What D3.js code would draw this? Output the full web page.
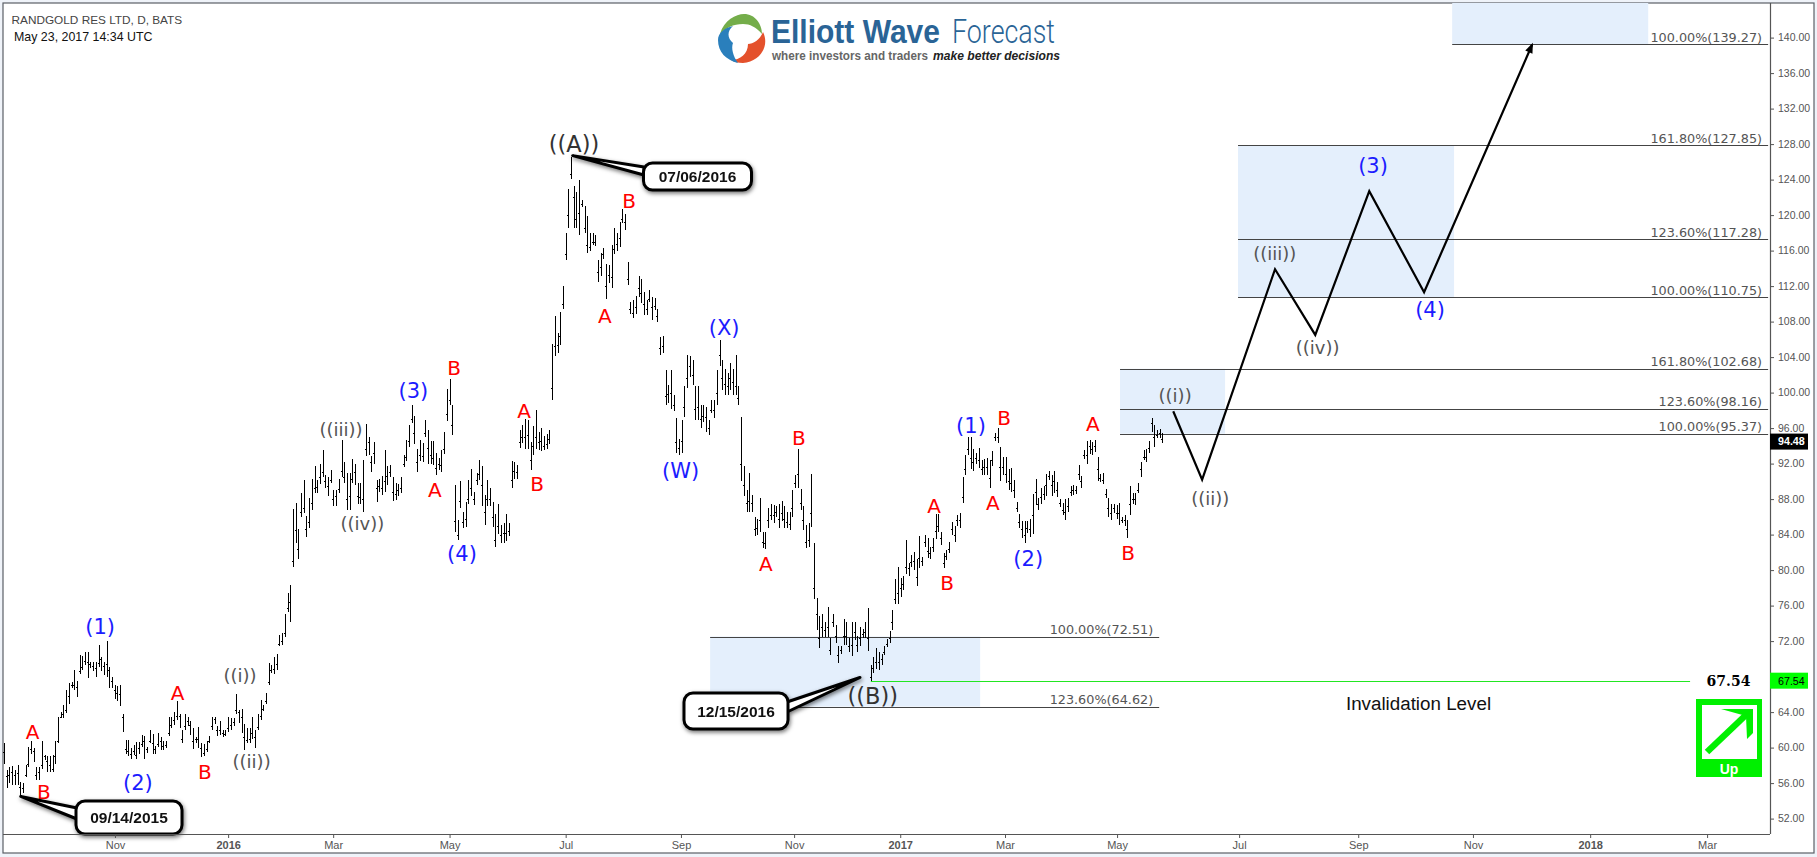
<!DOCTYPE html>
<html>
<head>
<meta charset="utf-8">
<title>RANDGOLD RES LTD, D, BATS</title>
<script src="https://cdnjs.cloudflare.com/ajax/libs/d3/7.8.5/d3.min.js"></script>
<style>
  html, body { margin: 0; padding: 0; background: #eff3f9; overflow: hidden; }
  svg { display: block; }
  text { font-family: "Liberation Sans", Arial, sans-serif; }
  .wave { font-family: "DejaVu Sans", Verdana, sans-serif; text-anchor: middle; }
  .fib { font-family: "DejaVu Sans", Verdana, sans-serif; font-size: 12.8px; fill: #555; text-anchor: end; }
</style>
</head>
<body>
<div id="chart"></div>
<script>
// one entry per trading day, first bar is the left edge of the chart
const barHigh = [
  60.5,57.5,57.8,57.9,57.5,58.0,56.1,56.0,58.0,60.1,60.8,60.0,57.8,57.8,60.8,59.2,59.0,59.0,59.2,60.7,
  63.4,64.0,64.8,66.5,67.3,67.4,68.8,67.5,70.4,70.3,70.8,70.8,69.7,69.7,69.7,71.6,70.2,69.7,72.0,69.1,
  67.9,67.0,66.9,67.0,63.8,60.9,60.9,60.0,60.3,60.6,60.6,61.4,61.3,60.1,62.0,61.5,60.2,61.6,61.2,60.8,
  60.8,63.4,63.5,64.0,65.3,63.8,62.0,63.8,63.4,63.0,62.2,61.2,62.3,60.5,60.4,60.8,61.3,63.5,63.5,62.4,
  63.0,62.0,62.0,63.5,63.3,63.3,66.0,64.2,64.3,62.7,62.2,62.2,63.4,62.0,63.8,65.4,64.8,66.2,69.5,69.3,
  70.2,70.6,72.7,72.9,75.1,77.4,78.3,86.9,87.6,84.6,88.7,90.2,86.1,88.1,90.3,91.7,90.2,92.0,93.5,90.7,
  90.5,91.3,89.0,89.0,90.3,94.7,92.2,90.9,90.9,92.5,92.0,89.8,89.8,92.4,96.5,95.0,92.9,94.4,90.2,90.3,
  90.6,93.5,91.7,91.8,90.5,89.8,89.7,90.5,93.0,94.7,96.4,98.6,97.4,93.6,94.7,94.3,96.9,95.8,94.5,94.5,
  93.2,92.6,93.5,95.6,100.4,101.5,98.6,89.6,85.6,90.0,86.6,87.7,90.2,91.4,88.8,90.9,92.4,91.7,88.5,90.2,
  89.2,87.7,86.3,87.5,85.1,85.3,86.3,85.3,92.3,92.2,91.8,95.8,96.4,97.0,96.9,94.4,96.2,98.0,95.6,96.0,
  95.1,95.3,95.8,105.5,108.6,106.7,109.1,112.0,118.0,122.9,126.5,123.3,122.6,124.0,121.7,121.0,119.9,118.0,118.0,117.8,
  114.9,115.7,116.3,114.5,114.4,116.6,118.6,118.0,119.2,120.7,120.1,114.7,110.2,110.4,110.9,113.1,112.8,111.3,110.4,111.6,
  110.8,110.7,109.4,106.3,106.4,102.5,100.9,102.6,99.7,97.1,94.8,96.9,100.7,104.2,104.1,103.7,100.7,100.7,98.6,98.6,
  98.4,96.9,99.2,99.2,102.6,105.9,103.7,102.7,102.2,103.3,102.7,104.2,100.8,97.2,91.7,89.0,90.9,88.5,86.0,85.8,
  88.1,84.3,84.3,87.0,87.5,87.3,87.2,87.5,87.8,87.2,86.5,86.6,89.0,90.7,93.7,89.1,87.2,85.1,85.3,90.8,
  83.1,76.9,74.8,75.1,74.2,75.8,72.4,75.1,73.8,71.4,71.4,74.5,74.2,72.3,74.2,74.2,72.6,73.6,73.4,74.2,
  75.7,69.3,70.2,71.2,70.8,70.6,71.4,72.2,73.1,75.5,79.0,80.4,79.1,79.3,83.4,80.8,81.7,82.0,81.3,83.8,
  81.5,84.0,83.6,82.6,83.6,86.3,86.3,84.3,81.9,82.3,83.2,85.4,85.0,86.2,86.4,90.5,93.0,95.0,95.0,93.6,
  93.2,93.8,92.4,92.5,92.6,92.4,93.4,95.5,96.0,93.9,92.8,92.7,91.4,91.5,90.2,87.7,86.3,85.5,85.5,85.5,
  85.8,88.6,90.3,88.1,89.3,89.5,90.8,91.2,90.7,91.2,89.9,88.0,87.6,88.0,88.1,89.5,89.6,89.5,91.8,90.6,
  93.5,94.5,94.7,94.4,94.7,92.7,90.8,90.9,89.1,88.1,87.5,87.5,87.3,87.6,86.0,86.2,85.6,89.5,88.7,88.7,
  89.8,92.2,93.5,93.7,94.6,97.1,96.3,95.8,95.9,95.4
];
const barLow = [
  58.2,55.5,56.0,55.8,55.8,55.8,54.6,54.9,56.7,57.8,59.3,58.4,56.3,56.3,57.6,58.6,57.3,57.2,57.3,58.2,
  60.5,63.3,63.3,63.9,64.9,66.7,66.5,65.7,68.3,68.7,69.3,67.8,69.0,68.6,67.9,69.1,68.6,68.2,68.0,66.7,
  66.7,65.5,65.2,64.7,61.8,59.3,59.0,58.7,59.2,58.7,59.3,60.1,58.7,59.4,60.5,59.3,59.3,60.1,59.7,59.7,
  59.9,61.3,62.2,62.5,63.1,62.2,60.5,62.0,62.4,61.4,59.8,60.5,60.0,58.9,59.0,59.5,60.5,62.0,62.7,61.3,
  61.4,61.2,61.3,61.8,62.0,62.4,63.8,62.8,61.7,59.7,60.5,60.5,61.0,60.0,62.0,63.1,64.1,64.9,67.0,68.4,
  68.3,68.7,71.4,71.6,72.5,75.3,74.2,80.4,83.0,81.3,86.0,86.4,83.7,84.7,86.8,88.7,88.7,89.7,90.5,89.2,
  88.3,89.8,87.2,87.2,88.7,90.5,89.8,86.8,86.8,89.8,89.6,87.5,87.5,86.5,92.9,93.0,91.1,92.0,87.7,88.8,
  88.5,88.8,89.6,90.5,87.8,87.9,88.4,88.7,91.6,92.3,93.9,96.6,94.2,91.1,92.3,92.2,95.0,92.0,92.0,91.8,
  90.7,91.3,91.0,93.1,96.8,98.6,95.2,84.3,83.4,87.0,84.8,84.9,87.5,88.4,87.3,89.6,90.2,87.2,85.1,87.2,
  87.2,84.9,82.6,84.1,83.0,83.1,83.3,83.8,89.2,90.3,90.3,93.8,94.3,93.7,93.7,91.3,93.0,93.7,93.5,93.4,
  93.5,93.7,94.2,99.2,104.1,104.5,105.4,109.4,114.9,118.5,124.1,118.5,118.5,117.8,120.9,118.0,115.7,115.9,116.6,116.5,
  112.5,113.1,115.1,110.6,112.3,111.8,115.6,115.9,116.4,119.1,118.3,112.1,108.9,108.4,108.9,110.8,110.1,108.8,108.8,110.2,
  108.2,109.3,107.9,104.2,104.5,98.6,98.8,98.2,97.9,93.2,93.0,93.2,97.3,100.5,101.8,100.9,96.9,96.9,96.0,96.7,
  95.6,95.2,97.7,97.1,98.6,103.0,100.3,99.7,99.7,100.3,99.7,99.7,98.6,90.0,88.4,86.6,86.6,86.6,83.8,84.0,
  84.3,82.5,82.4,84.8,85.6,85.3,86.0,84.8,85.5,84.8,84.7,84.5,86.0,89.2,89.2,86.8,84.5,82.5,82.6,84.9,
  76.8,73.3,71.2,72.5,72.5,72.5,70.4,73.6,71.8,69.5,70.6,71.6,71.6,70.8,70.3,72.1,70.8,71.4,72.4,72.4,
  70.9,67.54,68.4,68.9,68.7,69.3,70.4,71.3,71.8,73.3,76.2,76.2,77.0,77.8,79.6,79.3,80.4,80.0,78.2,80.2,
  80.5,82.6,81.4,81.3,82.0,83.5,84.3,82.8,80.2,81.1,81.9,84.0,83.2,85.0,84.8,87.6,90.7,93.0,91.4,91.2,
  92.0,91.5,90.7,90.7,90.7,89.3,91.7,94.5,94.3,90.0,90.7,89.8,89.0,88.8,88.1,86.6,84.7,83.6,83.0,84.2,
  83.7,84.1,87.3,86.8,87.5,87.9,88.3,90.2,88.3,88.7,88.2,87.1,86.2,85.7,86.6,88.3,88.5,88.6,90.2,89.2,
  92.5,92.0,93.1,93.0,93.3,90.0,89.9,89.7,88.1,86.0,85.6,86.4,85.8,85.1,85.3,85.0,83.6,86.2,87.5,87.3,
  88.7,90.5,92.4,92.2,93.2,95.6,93.9,94.9,94.9,94.3
];
const barOpen = [
  59.5,56.8,56.9,57.2,56.9,57.1,55.6,55.5,56.9,58.2,59.8,59.6,56.9,57.2,58.0,59.0,58.5,58.0,57.6,59.0,
  60.7,63.5,63.8,64.2,65.8,67.0,67.0,66.8,68.6,69.1,69.8,69.6,69.4,69.2,69.0,69.5,70.0,69.2,69.4,68.7,
  67.5,66.5,66.2,66.0,63.5,59.8,59.6,59.3,59.6,59.2,60.0,60.4,60.8,59.8,60.8,60.5,59.8,60.4,60.7,60.2,
  60.3,61.6,62.5,63.1,63.6,63.6,61.0,62.4,63.0,62.6,60.8,61.0,61.0,60.0,59.4,59.8,60.7,62.4,63.2,62.0,
  62.0,61.6,61.5,62.2,62.6,62.9,64.2,64.0,63.4,61.2,60.9,61.0,61.6,61.2,62.3,63.6,64.4,65.2,67.4,68.8,
  68.9,69.4,71.7,72.0,72.9,75.7,76.4,81.0,84.5,82.4,86.6,87.0,84.6,85.4,87.6,89.2,89.4,90.5,91.0,90.0,
  89.5,90.2,88.0,88.4,89.1,91.2,90.5,88.0,88.4,90.3,91.0,88.4,88.2,88.0,93.6,94.4,92.2,93.2,89.2,89.5,
  89.3,90.0,90.6,91.1,88.8,88.6,89.0,89.2,92.0,92.7,94.6,97.0,95.4,92.2,93.0,92.9,95.5,93.8,93.0,92.6,
  91.5,92.0,91.8,93.6,97.6,99.2,96.4,85.5,84.0,87.8,85.4,85.8,88.0,89.2,88.0,90.2,90.8,89.6,86.6,88.0,
  88.0,86.0,83.4,85.0,84.0,84.2,84.2,84.4,90.2,91.2,91.0,94.4,95.0,95.0,95.2,92.4,94.0,95.0,94.4,94.6,
  94.0,94.2,94.8,100.5,105.2,105.4,106.4,110.0,115.6,120.0,124.6,122.0,119.6,120.2,121.3,118.6,116.6,116.4,117.0,117.0,
  113.6,114.2,115.6,112.0,113.2,113.0,116.2,116.8,117.4,119.6,119.2,112.8,109.4,109.0,109.6,111.8,111.2,110.0,109.4,110.6,
  109.6,109.8,108.6,105.0,105.2,99.6,99.8,100.0,98.6,94.4,93.8,94.6,98.4,101.6,103.0,102.0,98.2,98.4,97.0,97.4,
  97.2,96.0,98.0,98.0,100.0,104.2,101.6,101.0,100.8,101.6,101.2,100.8,99.4,92.0,89.6,87.6,87.8,87.6,84.6,84.8,
  85.6,83.2,83.0,85.6,86.2,86.2,86.6,85.8,86.4,85.8,85.4,85.2,87.0,89.8,90.8,87.6,85.6,83.2,83.4,86.4,
  78.0,75.0,72.4,73.6,73.2,73.6,71.0,74.2,72.6,70.4,71.0,72.6,72.6,71.4,71.6,73.0,71.6,72.4,72.8,73.0,
  72.4,68.0,69.0,69.6,69.6,70.0,70.8,71.7,72.4,74.2,76.8,77.4,78.0,78.4,80.4,80.2,80.9,81.0,79.2,81.4,
  81.0,83.2,82.2,81.9,82.6,84.4,85.0,83.6,80.8,81.6,82.4,84.6,84.0,85.6,85.6,88.2,91.4,93.6,92.6,92.2,
  92.6,92.4,91.4,91.6,91.6,90.4,92.4,95.0,95.0,91.6,91.6,90.8,90.0,89.8,89.0,87.0,85.4,84.6,84.0,84.8,
  84.6,86.2,88.8,87.4,88.2,88.6,89.6,90.6,89.6,90.0,89.0,87.6,86.8,86.6,87.2,88.8,89.0,89.0,90.8,90.0,
  93.0,93.0,94.0,93.6,94.0,91.4,90.4,90.2,88.6,87.0,86.4,87.0,86.4,86.4,85.6,85.6,84.6,87.4,88.0,88.0,
  89.0,91.4,92.8,92.8,93.8,96.6,95.0,95.2,95.4,94.8
];

// projected path after the last bar
const pathBars = [433, 443.7, 470.7, 485.6, 505.6, 525.9, 565.9];
const pathPrices = [97.9, 90.2, 113.9, 106.5, 122.7, 111.3, 139.2];

// fibonacci levels: percent, price, first bar, last bar
const fibPct = ["100.00%", "161.80%", "123.60%", "100.00%", "161.80%", "123.60%", "100.00%", "100.00%", "123.60%"];
const fibPrice = [139.27, 127.85, 117.28, 110.75, 102.68, 98.16, 95.37, 72.51, 64.62];
const fibFrom = [536.3, 457, 457, 457, 413.3, 413.3, 413.3, 261.5, 261.5];
const fibTo = [653.3, 653.3, 653.3, 653.3, 653.3, 653.3, 653.3, 427.8, 427.8];

const zoneFrom = [536.3, 457, 413.3, 261.5];
const zoneTo = [608.9, 537, 452.2, 361.5];
const zoneTop = [144, 127.85, 102.68, 72.51];
const zoneBottom = [139.27, 110.75, 95.37, 64.62];

const yTicks = d3.range(52, 141, 4);
const monthNames = ["Nov", "2016", "Mar", "May", "Jul", "Sep", "Nov", "2017", "Mar", "May", "Jul", "Sep", "Nov", "2018", "Mar"];
const monthBars = [41.1, 83, 121.9, 165, 208, 250.7, 292.6, 331.9, 370.7, 412.2, 457.4, 501.5, 544, 587.4, 630.7];

// wave labels
const blueNames = ["(1)", "(2)", "(3)", "(4)", "(W)", "(X)", "(1)", "(2)", "(3)", "(4)"];
const blueBars = [35.6, 49.6, 151.6, 169.6, 250.6, 266.7, 358.1, 379.3, 507, 528.1];
const bluePrices = [73.7, 56.1, 100.2, 81.9, 91.2, 107.3, 96.3, 81.3, 125.6, 109.4];
const redNames = ["A", "B", "A", "B", "A", "B", "A", "B", "A", "B", "A", "B", "A", "B", "A", "B", "A", "B"];
const redBars = [10.6, 14.8, 64.3, 74.4, 159.6, 166.7, 192.6, 197.4, 222.5, 231.5, 282.1, 294.4, 344.4, 349.3, 366.2, 370.4, 403.2, 416.3];
const redPrices = [61.8, 55.0, 66.2, 57.3, 89.0, 102.8, 97.9, 89.7, 108.7, 121.6, 80.7, 94.9, 87.2, 78.6, 87.6, 97.2, 96.5, 82.0];
const greyNames = ["((i))", "((ii))", "((iii))", "((iv))", "((i))", "((ii))", "((iii))", "((iv))"];
const greyBars = [87.4, 91.7, 124.8, 132.7, 433.7, 446.7, 470.6, 486.5];
const greyPrices = [68.1, 58.4, 95.8, 85.2, 99.7, 88.1, 115.7, 105.1];
const majorNames = ["((A))", "((B))"];
const majorBars = [211.1, 321.7];
const majorPrices = [128.0, 65.8];

const calloutDates = ["09/14/2015", "07/06/2016", "12/15/2016"];
const calloutBars = [6.2, 210.6, 317];
const calloutPrices = [54.5, 126.7, 67.9];

const invalidation = 67.54;
const lastPrice = 94.48;

const width = 1817, height = 857;
const plotLeft = 3, plotRight = 1770, plotTop = 3, plotBottom = 834;

const x = d3.scaleLinear().domain([-0.37, 654]).range([plotLeft, plotRight]);
const y = d3.scaleLinear().domain([140, 52]).range([37.6, 818.6]);

const svg = d3.select("#chart").append("svg")
  .attr("width", width)
  .attr("height", height);

svg.append("defs").append("clipPath").attr("id", "plot")
  .append("rect").attr("x", plotLeft).attr("y", plotTop).attr("width", plotRight - plotLeft).attr("height", plotBottom - plotTop);

svg.append("rect")
  .attr("x", plotLeft).attr("y", plotTop)
  .attr("width", 1814 - plotLeft).attr("height", 853 - plotTop)
  .attr("fill", "#fff")
  .attr("stroke", "#5a5f66")
  .attr("stroke-width", 1.2);

const plot = svg.append("g").attr("clip-path", "url(#plot)");

// blue target boxes
plot.append("g").selectAll("rect")
  .data(zoneFrom)
  .join("rect")
  .attr("x", (d, i) => x(d))
  .attr("y", (d, i) => y(zoneTop[i]))
  .attr("width", (d, i) => x(zoneTo[i]) - x(d))
  .attr("height", (d, i) => y(zoneBottom[i]) - y(zoneTop[i]))
  .attr("fill", "#e4effc");

// fib lines and labels
plot.append("g").selectAll("line")
  .data(fibPrice)
  .join("line")
  .attr("x1", (d, i) => x(fibFrom[i]))
  .attr("x2", (d, i) => x(fibTo[i]))
  .attr("y1", d => Math.round(y(d)) + 0.5)
  .attr("y2", d => Math.round(y(d)) + 0.5)
  .attr("stroke", "#444")
  .attr("stroke-width", 1);

plot.append("g").selectAll("text")
  .data(fibPrice)
  .join("text")
  .attr("class", "fib")
  .attr("x", (d, i) => x(fibTo[i]) - 6)
  .attr("y", d => y(d) - 2.5)
  .text((d, i) => fibPct[i] + "(" + d3.format(".2f")(d) + ")");

// invalidation line
plot.append("line")
  .attr("x1", x(321)).attr("x2", x(624.4))
  .attr("y1", Math.round(y(invalidation)) + 0.5)
  .attr("y2", Math.round(y(invalidation)) + 0.5)
  .attr("stroke", "#22e622")
  .attr("stroke-width", 1.2);

// OHLC bars, only the left tick is visible at this size
const bars = plot.append("g")
  .attr("stroke", "#000")
  .attr("stroke-width", 1)
  .attr("shape-rendering", "crispEdges");

bars.selectAll("line.hl")
  .data(barHigh)
  .join("line")
  .attr("class", "hl")
  .attr("x1", (d, i) => Math.round(x(i)) + 0.5)
  .attr("x2", (d, i) => Math.round(x(i)) + 0.5)
  .attr("y1", d => y(d))
  .attr("y2", (d, i) => y(barLow[i]));

bars.selectAll("line.open")
  .data(barOpen)
  .join("line")
  .attr("class", "open")
  .attr("x1", (d, i) => Math.round(x(i)) - 1)
  .attr("x2", (d, i) => Math.round(x(i)))
  .attr("y1", d => Math.round(y(d)) + 0.5)
  .attr("y2", d => Math.round(y(d)) + 0.5);

// projection
const line = d3.line().x(d => x(d[0])).y(d => y(d[1]));
const pathPoints = pathBars.map((b, i) => [b, pathPrices[i]]);
plot.append("path")
  .attr("d", line(pathPoints))
  .attr("fill", "none")
  .attr("stroke", "#000")
  .attr("stroke-width", 2.2)
  .attr("stroke-linejoin", "miter");

const n = pathPoints.length;
const tipX = x(pathBars[n - 1]), tipY = y(pathPrices[n - 1]);
const ang = Math.atan2(tipY - y(pathPrices[n - 2]), tipX - x(pathBars[n - 2]));
plot.append("path")
  .attr("d", d3.line()([
    [tipX + Math.cos(ang) * 2, tipY + Math.sin(ang) * 2],
    [tipX - Math.cos(ang - 0.45) * 9, tipY - Math.sin(ang - 0.45) * 9],
    [tipX - Math.cos(ang + 0.45) * 9, tipY - Math.sin(ang + 0.45) * 9]
  ]) + "Z")
  .attr("fill", "#000");

// wave labels
function waveLabels(names, barsAt, pricesAt, size, color) {
  plot.append("g").selectAll("text")
    .data(names)
    .join("text")
    .attr("class", "wave")
    .attr("x", (d, i) => x(barsAt[i]))
    .attr("y", (d, i) => y(pricesAt[i]))
    .attr("dy", "0.36em")
    .attr("font-size", size)
    .attr("fill", color)
    .text(d => d);
}
waveLabels(blueNames, blueBars, bluePrices, 21, "#1c1cff");
waveLabels(redNames, redBars, redPrices, 20, "#f00");
waveLabels(greyNames, greyBars, greyPrices, 18, "#555");
waveLabels(majorNames, majorBars, majorPrices, 22.5, "#333");

svg.append("text")
  .attr("x", 1418.5).attr("y", 703).attr("dy", "0.36em")
  .attr("text-anchor", "middle")
  .attr("font-size", 18.8)
  .attr("fill", "#111")
  .text("Invalidation Level");

svg.append("text")
  .attr("x", 1728.5).attr("y", y(invalidation)).attr("dy", "0.36em")
  .attr("text-anchor", "middle")
  .style("font-family", "'DejaVu Serif', serif")
  .attr("font-weight", "bold")
  .attr("font-size", 14)
  .attr("fill", "#000")
  .text(d3.format(".2f")(invalidation));

// date callouts
const boxX = [76, 643.5, 684], boxY = [801, 163, 693], boxW = [106, 108, 104], boxH = [33, 27, 36];
const baseX = [77, 644, 787], baseY = [[808, 819], [167, 175], [702, 712]];
const callouts = svg.append("g");
calloutDates.forEach((date, i) => {
  const g = callouts.append("g").style("filter", "drop-shadow(1px 2px 2px rgba(0,0,0,0.55))");
  g.append("path")
    .attr("d", d3.line()([
      [x(calloutBars[i]), y(calloutPrices[i])],
      [baseX[i], baseY[i][0]],
      [baseX[i], baseY[i][1]]
    ]) + "Z")
    .attr("fill", "#fff")
    .attr("stroke", "#000")
    .attr("stroke-width", 3)
    .attr("stroke-linejoin", "round");
  g.append("rect")
    .attr("x", boxX[i]).attr("y", boxY[i])
    .attr("width", boxW[i]).attr("height", boxH[i])
    .attr("rx", 9).attr("ry", 9)
    .attr("fill", "#fff")
    .attr("stroke", "#000")
    .attr("stroke-width", 3);
  g.append("text")
    .attr("x", boxX[i] + boxW[i] / 2)
    .attr("y", boxY[i] + boxH[i] / 2)
    .attr("dy", "0.36em")
    .attr("text-anchor", "middle")
    .attr("font-weight", "bold")
    .attr("font-size", 15.5)
    .attr("fill", "#111")
    .text(date);
});

// axes, the 68.00 label sits under the green price tag
const yAxis = d3.axisRight(y)
  .tickValues(yTicks)
  .tickFormat(d => d === 68 ? "" : d3.format(".2f")(d))
  .tickSize(4)
  .tickSizeOuter(0);
const xAxis = d3.axisBottom(x)
  .tickValues(monthBars)
  .tickFormat((d, i) => monthNames[i])
  .tickSize(4)
  .tickSizeOuter(0);

const yG = svg.append("g").attr("transform", `translate(${plotRight},0)`).call(yAxis);
const xG = svg.append("g").attr("transform", `translate(0,${plotBottom})`).call(xAxis);
yG.select(".domain").remove();
xG.select(".domain").remove();
[yG, xG].forEach(g => {
  g.selectAll("line").attr("stroke", "#555");
  g.selectAll("text").attr("fill", "#555").style("font-family", "'Liberation Sans', Arial, sans-serif");
});
yG.selectAll("text").attr("font-size", 10.5).attr("x", 8);
xG.selectAll("text").attr("font-size", 11).attr("y", 7);
xG.selectAll("text").filter(d => d === 83 || d === 331.9 || d === 587.4).attr("font-weight", "bold");

svg.append("line").attr("x1", plotRight + 0.5).attr("x2", plotRight + 0.5).attr("y1", plotTop).attr("y2", plotBottom)
  .attr("stroke", "#555").attr("stroke-width", 1.2);
svg.append("line").attr("x1", plotLeft).attr("x2", plotRight).attr("y1", plotBottom + 0.5).attr("y2", plotBottom + 0.5)
  .attr("stroke", "#555").attr("stroke-width", 1.2);

// price tags on the axis
function priceTag(value, fill, color, weight) {
  svg.append("rect")
    .attr("x", plotRight).attr("y", y(value) - 8)
    .attr("width", 38).attr("height", 16)
    .attr("fill", fill);
  svg.append("text")
    .attr("x", plotRight + 8).attr("y", y(value)).attr("dy", "0.36em")
    .attr("font-size", 10.7)
    .attr("font-weight", weight)
    .attr("fill", color)
    .text(d3.format(".2f")(value));
}
priceTag(invalidation, "#00ff00", "#000", "normal");
priceTag(lastPrice, "#000", "#fff", "bold");

// title block
svg.append("text").attr("x", 11.5).attr("y", 24).attr("font-size", 11.8).attr("fill", "#444")
  .text("RANDGOLD RES LTD, D, BATS");
svg.append("text").attr("x", 14).attr("y", 41).attr("font-size", 12.4).attr("fill", "#111")
  .text("May 23, 2017 14:34 UTC");

// up arrow badge
const badge = svg.append("g");
badge.append("rect").attr("x", 1696).attr("y", 699).attr("width", 66).attr("height", 78).attr("fill", "#00f000");
badge.append("rect").attr("x", 1702).attr("y", 705).attr("width", 55).attr("height", 54).attr("fill", "#fff");
badge.append("line").attr("x1", 1707).attr("y1", 752).attr("x2", 1748).attr("y2", 713)
  .attr("stroke", "#00f000").attr("stroke-width", 6.5);
badge.append("path").attr("d", "M1721,709L1753,709L1753,733L1747,739L1746,716Z").attr("fill", "#00f000");
badge.append("text").attr("x", 1729).attr("y", 774)
  .attr("text-anchor", "middle").attr("font-weight", "bold").attr("font-size", 14).attr("fill", "#fff")
  .text("Up");

// logo
const logo = svg.append("g");
logo.append("path")
  .attr("d", "M720,34C724,20 736,14 744,14C755,14 762,24 762,34C756,27 750,24 743,24C733,24 726,28 720,34Z")
  .attr("fill", "#74ad4a");
logo.append("path")
  .attr("d", "M763,32C770,46 760,62 743,63C738,63 734,62 731,60C740,60 748,54 748,44C753,44 760,40 763,32Z")
  .attr("fill", "#e4512c");
logo.append("path")
  .attr("d", "M733,26C724,28 718,33 718,40C718,52 726,60 738,63C733,56 731,48 733,43C727,38 727,31 733,26Z")
  .attr("fill", "#2a7fbc");
logo.append("text").attr("x", 771).attr("y", 43).attr("font-size", 33.5).attr("font-weight", "bold")
  .attr("fill", "#2a6496").attr("textLength", 169).attr("lengthAdjust", "spacingAndGlyphs")
  .text("Elliott Wave");
logo.append("text").attr("x", 952).attr("y", 43).attr("font-size", 33.5)
  .style("font-family", "Roboto, sans-serif").attr("font-weight", 300)
  .attr("fill", "#2a6496").attr("textLength", 103).attr("lengthAdjust", "spacingAndGlyphs")
  .text("Forecast");
logo.append("text").attr("x", 772).attr("y", 60).attr("font-size", 13.5).attr("font-weight", "bold")
  .attr("fill", "#666").attr("textLength", 156).attr("lengthAdjust", "spacingAndGlyphs")
  .text("where investors and traders");
logo.append("text").attr("x", 933).attr("y", 60).attr("font-size", 13.5).attr("font-weight", "bold")
  .attr("font-style", "italic").attr("fill", "#222").attr("textLength", 127).attr("lengthAdjust", "spacingAndGlyphs")
  .text("make better decisions");
</script>
</body>
</html>
